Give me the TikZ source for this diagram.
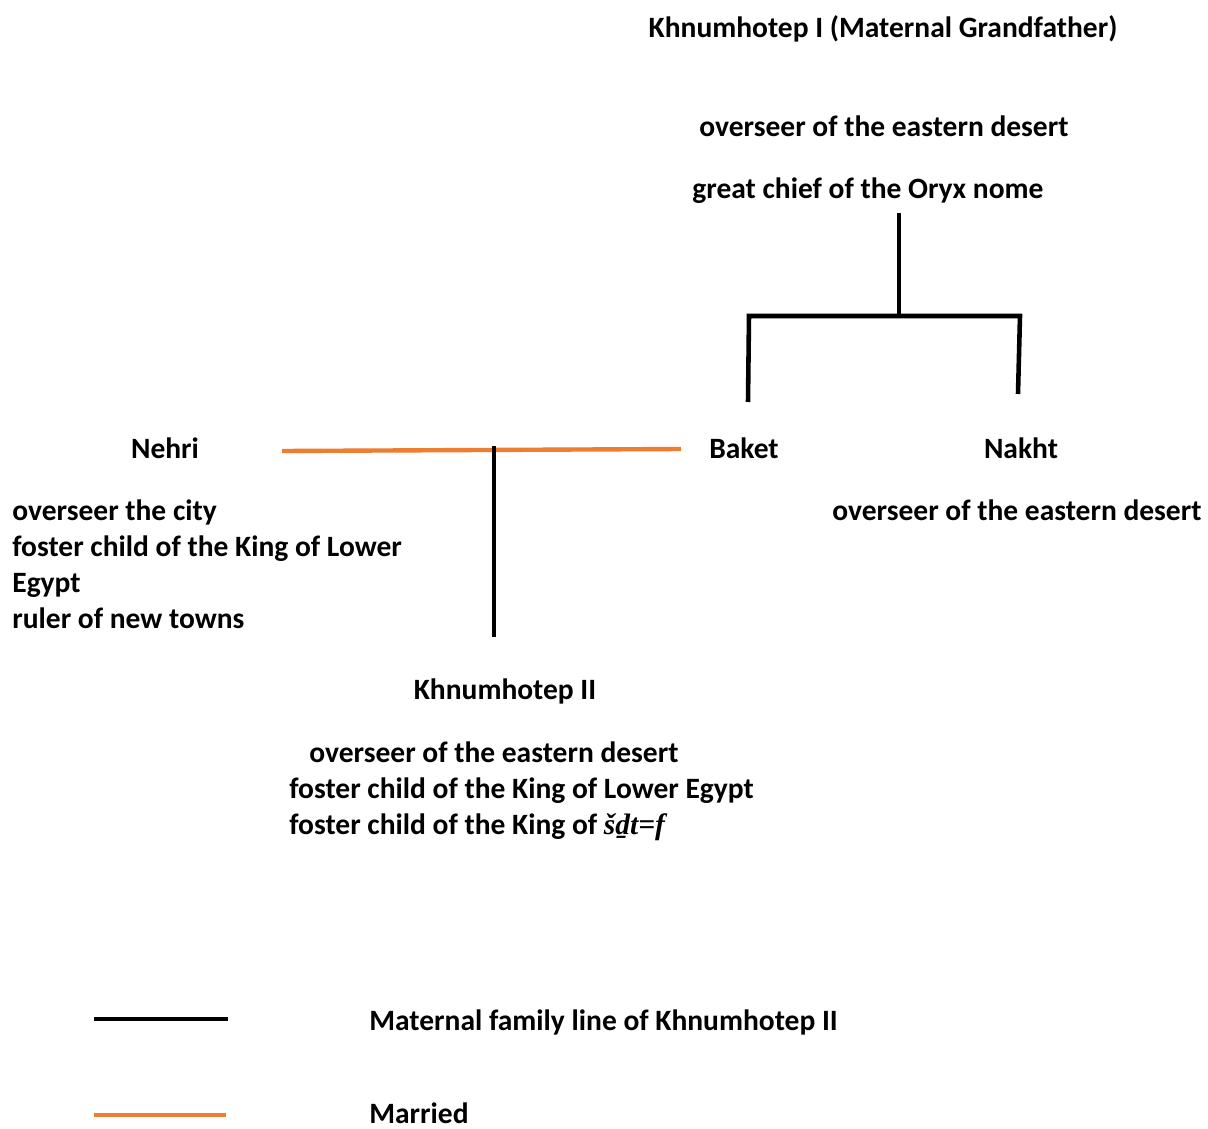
\documentclass[tikz,border=0pt]{standalone}
\usepackage{fontspec}
\setmainfont{Carlito}
\newfontfamily\translitfont{Liberation Serif}
\usepackage{xcolor}
\usetikzlibrary{positioning}

\definecolor{marriedorange}{RGB}{237,125,49}

\tikzset{
    person/.style={font=\bfseries, inner sep=0pt, anchor=mid},
    title/.style={font=\bfseries, inner sep=0pt, anchor=mid west},
    familyline/.style={line width=2.6pt, black},
    marriedline/.style={line width=2.5pt, marriedorange}
}

\begin{document}
\fontsize{16.8}{20.6}\selectfont
\begin{tikzpicture}[x=0.02cm,y=-0.02cm]
    \useasboundingbox (0,0) rectangle (1208,1129);

    % Khnumhotep I (top)
    \node[person] (grandfather) at (883,30) {Khnumhotep I (Maternal Grandfather)};
    \node[person] (gfTitleA) at (884,129) {overseer of the eastern desert};
    \node[person] (gfTitleB) at (868,191) {great chief of the Oryx nome};

    % his children
    \coordinate (gfDown) at (899,213);
    \coordinate (gfBar) at (899,316);
    \coordinate (barLeft) at (749,316);
    \coordinate (barRight) at (1020,316);
    \coordinate (baketUp) at (748,402);
    \coordinate (nakhtUp) at (1018,394);
    \draw[familyline] (gfDown) -- (gfBar);
    \draw[familyline] (baketUp) -- (barLeft) -- (barRight) -- (nakhtUp);

    \node[person] (baket) at (744,451) {Baket};
    \node[person] (nakht) at (1021,451) {Nakht};
    \node[person] (nakhtTitle) at (1017,513) {overseer of the eastern desert};

    % Nehri (left)
    \node[person] (nehri) at (165,451) {Nehri};
    \node[title] (nehriTitleA) at (12,513) {overseer the city};
    \node[title] (nehriTitleB) at (12,549) {foster child of the King of Lower};
    \node[title] (nehriTitleC) at (12,585) {Egypt};
    \node[title] (nehriTitleD) at (12,621) {ruler of new towns};

    % marriage and son
    \coordinate (marryLeft) at (282,451);
    \coordinate (marryRight) at (681,449);
    \coordinate (sonTop) at (494,446);
    \coordinate (sonDown) at (494,637);
    \draw[marriedline] (marryLeft) -- (marryRight);
    \draw[familyline] (sonTop) -- (sonDown);

    % Khnumhotep II
    \node[person] (son) at (505,692) {Khnumhotep II};
    \node[title] (sonTitleA) at (309,755) {overseer of the eastern desert};
    \node[title] (sonTitleB) at (289,791) {foster child of the King of Lower Egypt};
    \node[title] (sonTitleC) at (289,827) {foster child of the King of {\translitfont\bfseries\itshape šḏt=f}};

    % legend
    \coordinate (keyBlackA) at (94,1019);
    \coordinate (keyBlackB) at (228,1019);
    \coordinate (keyOrangeA) at (94,1115);
    \coordinate (keyOrangeB) at (226,1115);
    \draw[familyline] (keyBlackA) -- (keyBlackB);
    \draw[marriedline] (keyOrangeA) -- (keyOrangeB);
    \node[title] (keyBlack) at (369,1023) {Maternal family line of Khnumhotep II};
    \node[title] (keyOrange) at (369,1116) {Married};
\end{tikzpicture}
\end{document}
